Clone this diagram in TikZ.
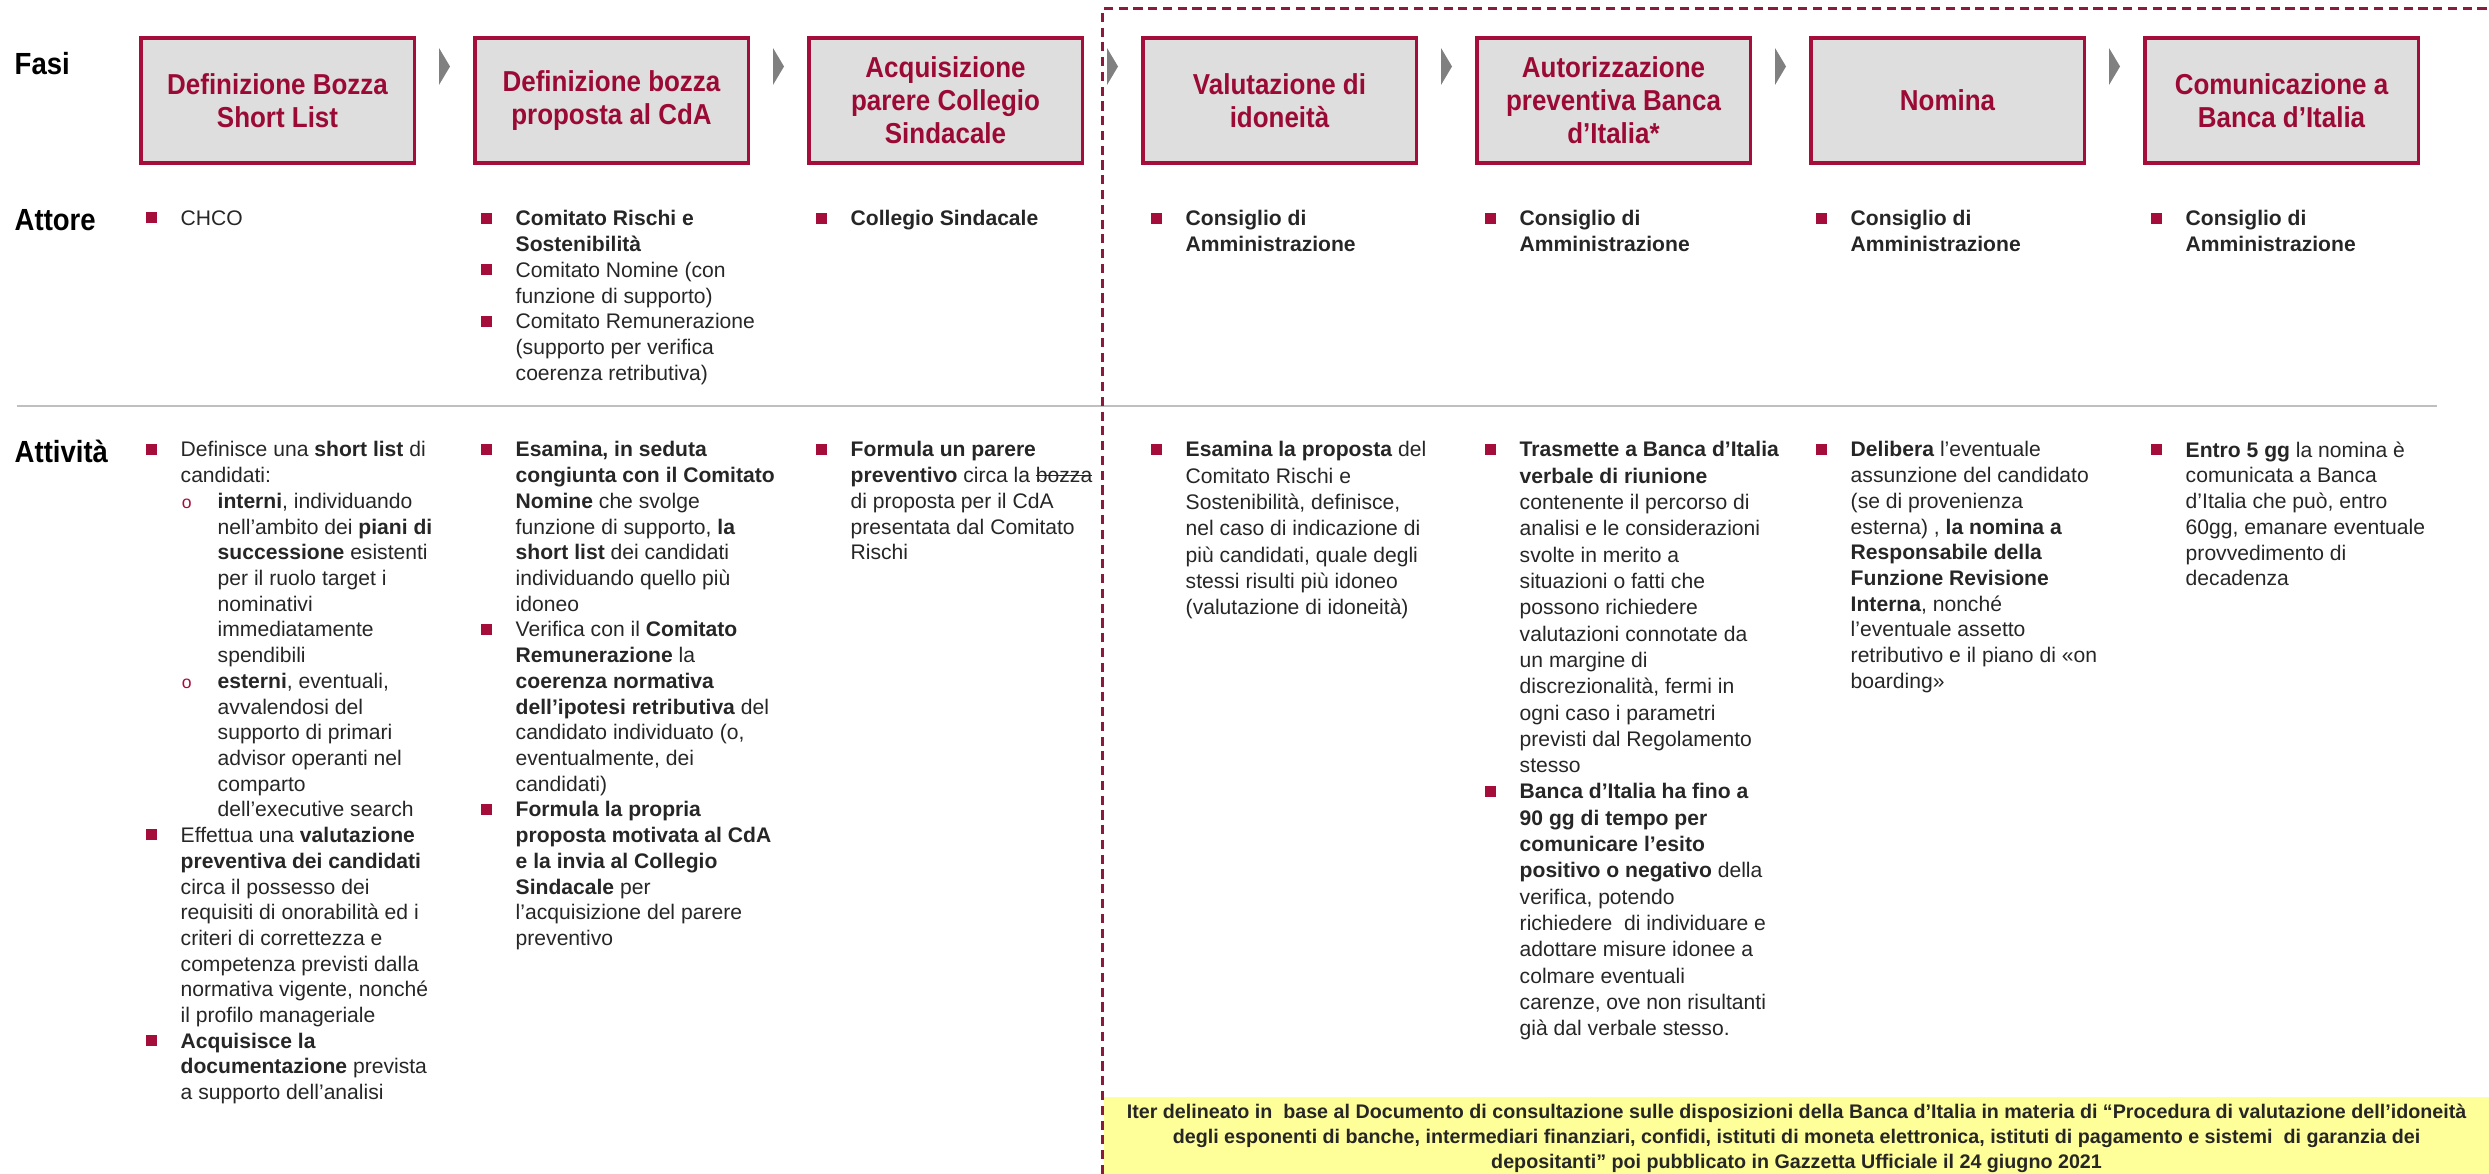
\documentclass[tikz,border=0pt]{standalone}
\usepackage{fontspec}
\usetikzlibrary{calc}
\setmainfont{Liberation Sans}
\newfontfamily\strettofont{Liberation Sans}[FakeStretch=0.9]
\definecolor{rosso}{HTML}{A50D3B}
\definecolor{rossotitolo}{HTML}{9B0A35}
\definecolor{rossotratt}{HTML}{8C1A3C}
\definecolor{grigiobox}{HTML}{DEDEDE}
\definecolor{grigiofreccia}{HTML}{808080}
\definecolor{lineagrigia}{HTML}{BFBFBF}
\definecolor{testo}{HTML}{262626}
\definecolor{giallo}{HTML}{FFFF99}
\newcommand{\pto}{\leavevmode\llap{\textcolor{rosso}{\rule[0.1em]{0.11cm}{0.11cm}}\hspace{0.24cm}}}
\newcommand{\sbt}{\leavevmode\llap{\textcolor{rosso}{\fontsize{5}{5}\selectfont o}\hspace{0.26cm}}}
\newcommand{\rie}{\hspace*{0.37cm}}
\newcommand{\barrato}[1]{\setbox0\hbox{#1}\rlap{\rule[0.3em]{\wd0}{0.06em}}\box0}
\begin{document}
\begin{tikzpicture}[x=0.01cm, y=-0.01cm,
		fase/.style={draw=rosso, line width=0.9pt, fill=grigiobox, minimum width=2.73cm, minimum height=1.25cm, inner sep=0pt, align=center, text=rossotitolo, font=\strettofont\bfseries\fontsize{8.2}{9.4}\selectfont},
		riga/.style={anchor=west, inner sep=0pt, font=\strettofont\bfseries\fontsize{8.7}{10}\selectfont},
		testo/.style={anchor=north west, inner sep=0pt, align=left, text=testo, font=\fontsize{6}{7.31}\selectfont},
		testolargo/.style={testo, font=\fontsize{6}{7.48}\selectfont},
		nota/.style={fill=giallo, minimum width=13.85cm, minimum height=0.77cm, inner sep=0pt},
		notatesto/.style={inner sep=0pt, align=center, text=testo, font=\bfseries\fontsize{5.6}{7.1}\selectfont},
		chev/.style={fill=grigiofreccia}]
	\useasboundingbox (0,0) rectangle (2489,1174);

	% fasi
	\foreach \t [count=\i] in {{Definizione Bozza\\Short List}, {Definizione bozza\\proposta al CdA}, {Acquisizione\\parere Collegio\\Sindacale}, {Valutazione di\\idoneità}, {Autorizzazione\\preventiva Banca\\d’Italia*}, {Nomina}, {Comunicazione a\\Banca d’Italia}}
		\node[fase] (f\i) at ({277.5+334*(\i-1)}, 100.5) {\t};
	\foreach \i [evaluate=\i as \j using int(\i+1)] in {1,...,6}
		\fill[chev] ($(f\i.east)!0.5!(f\j.west)$) ++(-5.5,-52.5) -- ++(0,37) -- ++(11,-18.5) -- cycle;

	\node[riga] (fasi) at (14, 64) {Fasi};
	\node[riga] (attore) at (14, 220) {Attore};
	\node[riga] (attivita) at (14, 451) {Attività};

	\draw[lineagrigia, line width=0.6pt] (17, 406) -- (2437, 406);

	% attore
	\node[testo] (a1) at (180, 210) {\pto CHCO};
	\node[testo] (a2) at (515, 210) {\pto\textbf{Comitato Rischi e}\\\textbf{Sostenibilità}\\\pto Comitato Nomine (con\\funzione di supporto)\\\pto Comitato Remunerazione\\(supporto per verifica\\coerenza retributiva)};
	\node[testo] (a3) at (850, 210) {\pto\textbf{Collegio Sindacale}};
	\foreach \x [count=\i from 4] in {1185, 1519, 1850, 2185}
		\node[testo] (a\i) at (\x, 210) {\pto\textbf{Consiglio di}\\\textbf{Amministrazione}};

	% attivita
	\node[testo] (t1) at (180, 441) {\pto Definisce una \textbf{short list} di\\candidati:\\
		\rie\sbt\textbf{interni}, individuando\\\rie nell’ambito dei \textbf{piani di}\\\rie\textbf{successione} esistenti\\\rie per il ruolo target i\\\rie nominativi\\\rie immediatamente\\\rie spendibili\\
		\rie\sbt\textbf{esterni}, eventuali,\\\rie avvalendosi del\\\rie supporto di primari\\\rie advisor operanti nel\\\rie comparto\\\rie dell'executive search\\
		\pto Effettua una \textbf{valutazione}\\\textbf{preventiva dei candidati}\\circa il possesso dei\\requisiti di onorabilità ed i\\criteri di correttezza e\\competenza previsti dalla\\normativa vigente, nonché\\il profilo manageriale\\
		\pto\textbf{Acquisisce la}\\\textbf{documentazione} prevista\\a supporto dell’analisi};
	\node[testo] (t2) at (515, 441) {\pto\textbf{Esamina, in seduta}\\\textbf{congiunta con il Comitato}\\\textbf{Nomine} che svolge\\funzione di supporto, \textbf{la}\\\textbf{short list} dei candidati\\individuando quello più\\idoneo\\
		\pto Verifica con il \textbf{Comitato}\\\textbf{Remunerazione} la\\\textbf{coerenza normativa}\\\textbf{dell’ipotesi retributiva} del\\candidato individuato (o,\\eventualmente, dei\\candidati)\\
		\pto\textbf{Formula la propria}\\\textbf{proposta motivata al CdA}\\\textbf{e la invia al Collegio}\\\textbf{Sindacale} per\\l’acquisizione del parere\\preventivo};
	\node[testo] (t3) at (850, 441) {\pto\textbf{Formula un parere}\\\textbf{preventivo} circa la \barrato{bozza}\\di proposta per il CdA\\presentata dal Comitato\\Rischi};
	\node[testolargo] (t4) at (1185, 441) {\pto\textbf{Esamina la proposta} del\\Comitato Rischi e\\Sostenibilità, definisce,\\nel caso di indicazione di\\più candidati, quale degli\\stessi risulti più idoneo\\(valutazione di idoneità)};
	\node[testolargo] (t5) at (1519, 441) {\pto\textbf{Trasmette a Banca d’Italia}\\\textbf{verbale di riunione}\\contenente il percorso di\\analisi e le considerazioni\\svolte in merito a\\situazioni o fatti che\\possono richiedere\\valutazioni connotate da\\un margine di\\discrezionalità, fermi in\\ogni caso i parametri\\previsti dal Regolamento\\stesso\\
		\pto\textbf{Banca d’Italia ha fino a}\\\textbf{90 gg di tempo per}\\\textbf{comunicare l’esito}\\\textbf{positivo o negativo} della\\verifica, potendo\\richiedere\ \ di individuare e\\adottare misure idonee a\\colmare eventuali\\carenze, ove non risultanti\\già dal verbale stesso.};
	\node[testo] (t6) at (1850, 441) {\pto\textbf{Delibera} l’eventuale\\assunzione del candidato\\(se di provenienza\\esterna) , \textbf{la nomina a}\\\textbf{Responsabile della}\\\textbf{Funzione Revisione}\\\textbf{Interna}, nonché\\l’eventuale assetto\\retributivo e il piano di «on\\boarding»};
	\node[testo] (t7) at (2185, 441) {\pto\textbf{Entro 5 gg} la nomina è\\comunicata a Banca\\d’Italia che può, entro\\60gg, emanare eventuale\\provvedimento di\\decadenza};

	% nota
	\node[nota] (nota) at (1796.5, 1135.5) {};
	\node[notatesto] (notatesto) at (1796.5, 1138) {Iter delineato in\ \ base al Documento di consultazione sulle disposizioni della Banca d’Italia in materia di “Procedura di valutazione dell’idoneità\\degli esponenti di banche, intermediari finanziari, confidi, istituti di moneta elettronica, istituti di pagamento e sistemi\ \ di garanzia dei\\depositanti” poi pubblicato in Gazzetta Ufficiale il 24 giugno 2021};

	\draw[rossotratt, line width=0.85pt, dash pattern=on 2.6pt off 1.6pt] (1102, 1174) -- (1102, 9) -- (2489, 9);
\end{tikzpicture}
\end{document}
